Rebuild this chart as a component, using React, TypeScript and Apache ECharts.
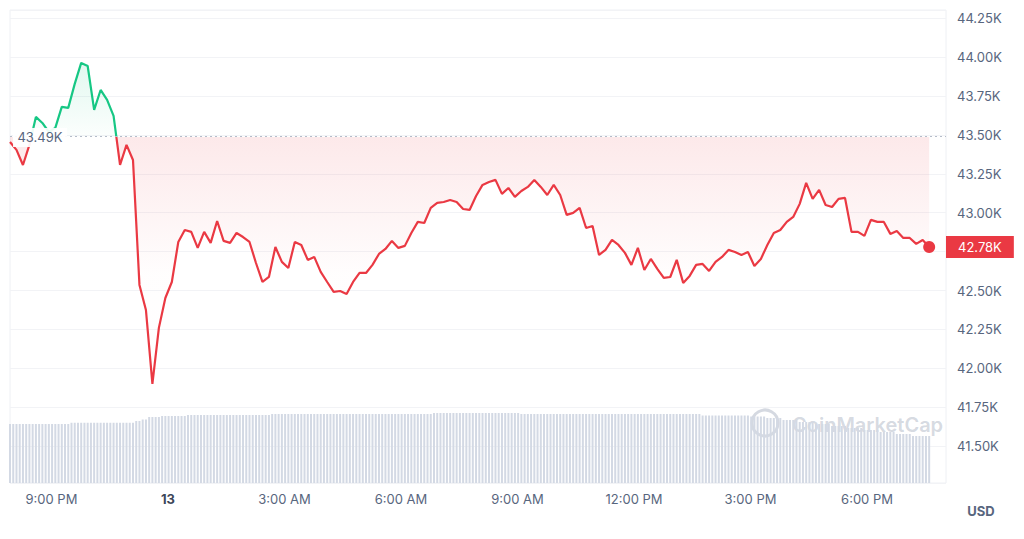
import { useEffect, useRef } from "react";
import * as echarts from "echarts";

// times are minutes relative to midnight of the 13th
const PRICE_START_MIN = -244; // 7:56 PM on the 12th
const PRICE_STEP_MIN = 10;
const VOLUME_STEP_MIN = 5;

// BTC price, USD, one point every 10 minutes
const PRICES = [
  43455, 43404, 43307, 43436, 43616, 43577, 43519, 43545, 43680, 43674,
  43828, 43963, 43943, 43661, 43789, 43725, 43622, 43307, 43436, 43339,
  42536, 42375, 41900, 42260, 42452, 42555, 42812, 42889, 42877, 42774,
  42877, 42806, 42947, 42819, 42806, 42870, 42844, 42812, 42677, 42555,
  42587, 42780, 42684, 42645, 42812, 42793, 42697, 42716, 42620, 42555,
  42491, 42497, 42478, 42555, 42613, 42613, 42665, 42735, 42767, 42819,
  42774, 42787, 42870, 42941, 42934, 43031, 43063, 43069, 43082, 43069,
  43024, 43018, 43108, 43179, 43198, 43211, 43121, 43159, 43102, 43140,
  43166, 43211, 43166, 43114, 43179, 43114, 42986, 42999, 43031, 42902,
  42915, 42729, 42761, 42825, 42793, 42742, 42665, 42774, 42632, 42703,
  42639, 42581, 42587, 42697, 42549, 42594, 42665, 42671, 42626, 42684,
  42716, 42761, 42748, 42729, 42748, 42658, 42703, 42793, 42870, 42889,
  42941, 42973, 43057, 43192, 43089, 43147, 43050, 43037, 43089, 43095,
  42877, 42877, 42851, 42954, 42941, 42941, 42864, 42883, 42838, 42838,
  42800, 42825, 42780,
];

// 24h volume, billions USD, one bar every 5 minutes
const VOLUMES = [
  23.6, 23.6, 23.6, 23.6, 23.6, 23.6, 23.6, 23.6, 23.6, 23.6,
  23.6, 23.6, 23.6, 23.6, 23.6, 23.6, 23.6, 23.6, 23.6, 24.1,
  24.1, 24.1, 24.1, 24.1, 24.1, 24.1, 24.1, 24.1, 24.1, 24.1,
  24.1, 24.1, 24.1, 24.1, 24.1, 24.1, 24.1, 24.1, 24.1, 24.8,
  24.8, 25.4, 25.4, 26.4, 26.4, 26.4, 26.4, 26.8, 26.8, 26.8,
  26.8, 26.8, 26.8, 26.8, 26.8, 27.2, 27.2, 27.2, 27.2, 27.2,
  27.2, 27.2, 27.2, 27.2, 27.2, 27.2, 27.2, 27.2, 27.2, 27.2,
  27.2, 27.2, 27.2, 27.2, 27.2, 27.2, 27.2, 27.2, 27.2, 27.2,
  27.2, 27.6, 27.6, 27.6, 27.6, 27.6, 27.6, 27.6, 27.6, 27.6,
  27.6, 27.6, 27.6, 27.6, 27.6, 27.6, 27.6, 27.6, 27.6, 27.6,
  27.6, 27.6, 27.6, 27.6, 27.6, 27.6, 27.6, 27.6, 27.6, 27.6,
  27.6, 27.6, 27.6, 27.6, 27.6, 27.6, 27.6, 27.6, 27.6, 27.6,
  27.6, 27.6, 27.6, 27.6, 27.6, 27.6, 27.6, 27.6, 27.6, 27.6,
  27.6, 28.0, 28.0, 28.0, 28.0, 28.0, 28.0, 28.0, 28.0, 28.0,
  28.0, 28.0, 28.0, 28.0, 28.0, 28.0, 28.0, 28.0, 28.0, 28.0,
  28.0, 28.0, 28.0, 28.0, 28.0, 28.0, 28.0, 28.0, 27.6, 27.6,
  27.6, 27.6, 27.6, 27.6, 27.6, 27.6, 27.6, 27.6, 27.6, 27.6,
  27.6, 27.6, 27.6, 27.6, 27.6, 27.6, 27.6, 27.6, 27.6, 27.6,
  27.6, 27.6, 27.6, 27.6, 27.6, 27.6, 27.6, 27.6, 27.6, 27.6,
  27.6, 27.6, 27.6, 27.6, 27.6, 27.6, 27.6, 27.6, 27.6, 27.6,
  27.6, 27.6, 27.6, 27.6, 27.6, 27.6, 27.6, 27.6, 27.6, 27.6,
  27.6, 27.6, 27.6, 27.6, 27.0, 27.0, 27.0, 27.0, 27.0, 27.0,
  27.0, 27.0, 27.0, 27.0, 27.0, 27.0, 27.0, 27.0, 27.0, 26.6,
  26.6, 26.6, 26.6, 26.6, 26.0, 26.0, 26.0, 26.0, 26.0, 25.2,
  25.2, 25.2, 25.2, 25.2, 24.4, 24.4, 24.4, 24.4, 24.4, 23.6,
  23.6, 23.6, 23.6, 23.6, 22.8, 22.8, 22.8, 22.8, 22.8, 22.0,
  22.0, 22.0, 22.0, 22.0, 21.2, 21.2, 21.2, 21.2, 21.2, 20.4,
  20.4, 20.4, 20.4, 20.4, 19.6, 19.6, 19.6, 19.6, 19.6, 18.8,
  18.8, 18.8, 18.8, 18.8, 18.8,
];

const OPEN_PRICE = 43490;
const LAST_PRICE = 42780;
// the red fill has faded out by about this price
const FADE_PRICE = 42600;
// the axis label hidden behind the last-price badge
const COVERED_TICK = 42750;

// x ticks every 3 hours, labelled from this list
const X_TICK_STEP = 180;
const X_TICKS = [-180, 0, 180, 360, 540, 720, 900, 1080];
const X_LABELS = ["9:00 PM", "13", "3:00 AM", "6:00 AM", "9:00 AM", "12:00 PM", "3:00 PM", "6:00 PM"];
const Y_TICK_STEP = 250;

const X_MIN = -244;
const X_MAX = 1202;
const Y_MIN = 41263;
const Y_MAX = 44303;
const VOL_MAX = 189.2;

const GREEN = "#16c784";
const RED = "#ea3943";
const MUTED = "#58667e";
const FONT = "Inter, sans-serif";

const fmtK = (v: number) => `${(v / 1000).toFixed(2)}K`;

export default function App() {
  const ref = useRef<HTMLDivElement>(null);

  useEffect(() => {
    if (!ref.current) return;
    const chart = echarts.init(ref.current, null, { renderer: "svg" });

    const priceData = PRICES.map((p, i) => [PRICE_START_MIN + i * PRICE_STEP_MIN, p]);
    const volData = VOLUMES.map((v, i) => [PRICE_START_MIN + i * VOLUME_STEP_MIN, v]);
    const last = priceData[priceData.length - 1]!;

    chart.setOption({
      animation: false,
      textStyle: { fontFamily: FONT },
      grid: {
        left: 10, right: 78, top: 10, bottom: 56,
        show: true, borderColor: "#eef0f4", borderWidth: 1,
      },
      xAxis: {
        type: "value", min: X_MIN, max: X_MAX,
        minInterval: X_TICK_STEP, maxInterval: X_TICK_STEP,
        axisLine: { show: false },
        axisTick: { show: false },
        splitLine: { show: false },
        axisLabel: {
          showMinLabel: false, showMaxLabel: false,
          margin: 9,
          fontSize: 13,
          color: MUTED,
          fontFamily: FONT,
          formatter: (v: number) => {
            const s = X_LABELS[X_TICKS.indexOf(v)] ?? "";
            return v === 0 ? `{day|${s}}` : s;
          },
          rich: { day: { fontWeight: 700, fontSize: 13, color: "#3d4658", fontFamily: FONT } },
        },
      },
      yAxis: [
        {
          type: "value", position: "right", min: Y_MIN, max: Y_MAX,
          minInterval: Y_TICK_STEP, maxInterval: Y_TICK_STEP,
          axisLine: { show: false },
          axisTick: { show: false },
          splitLine: { show: true, lineStyle: { color: "#f2f3f6", width: 1 } },
          axisLabel: {
            showMinLabel: false, showMaxLabel: false,
            formatter: (v: number) => (v === COVERED_TICK ? "" : fmtK(v)),
            color: MUTED, fontSize: 13, margin: 11, fontFamily: FONT,
          },
        },
        { type: "value", min: 0, max: VOL_MAX, show: false, splitLine: { show: false } },
      ],
      visualMap: {
        show: false, type: "piecewise", seriesIndex: 0, dimension: 1,
        pieces: [
          { gte: 0, lte: OPEN_PRICE, color: RED },
          { gt: OPEN_PRICE, lte: 1000000, color: GREEN },
        ],
      },
      series: [
        {
          id: "price",
          type: "line",
          data: priceData,
          showSymbol: false,
          symbol: "none",
          lineStyle: { width: 2.2 },
          areaStyle: { origin: OPEN_PRICE, color: "rgba(234,57,67,0.08)" },
          z: 3,
          markLine: {
            silent: true, symbol: "none",
            data: [
              {
                yAxis: OPEN_PRICE,
                lineStyle: { type: [2, 3], color: "#b4bcc9", width: 1 },
                label: { show: false },
              },
              {
                yAxis: LAST_PRICE,
                lineStyle: { color: "rgba(0,0,0,0)", width: 0 },
                label: {
                  show: true, position: "end", distance: 0,
                  formatter: fmtK(LAST_PRICE),
                  backgroundColor: RED, color: "#fff",
                  fontSize: 13, fontFamily: FONT, padding: [5, 12, 4, 12],
                },
              },
            ],
          },
          markPoint: {
            silent: true,
            data: [
              {
                coord: [PRICE_START_MIN, OPEN_PRICE],
                symbol: "rect", symbolSize: [54, 19], symbolOffset: [30, 1],
                itemStyle: { color: "rgba(255,255,255,0.92)" },
                label: {
                  show: true, position: "inside", formatter: fmtK(OPEN_PRICE),
                  color: MUTED, fontSize: 13, fontFamily: FONT,
                },
              },
              {
                coord: last,
                symbol: "circle", symbolSize: 12,
                itemStyle: { color: RED },
                label: { show: false },
              },
            ],
          },
        },
        {
          type: "bar",
          yAxisIndex: 1,
          data: volData,
          barWidth: 2,
          itemStyle: { color: "#d3d9e4" },
          silent: true,
          z: 1,
        },
      ],
      graphic: [
        {
          type: "circle", silent: true,
          shape: { cx: 765, cy: 423, r: 13 },
          style: { fill: "none", stroke: "rgba(150,160,180,0.4)", lineWidth: 3 },
        },
        {
          type: "text", silent: true, x: 792, y: 425,
          style: {
            text: "CoinMarketCap", fill: "rgba(150,160,180,0.4)",
            font: `600 20px ${FONT}`, textVerticalAlign: "middle",
          },
        },
        {
          type: "text", silent: true, x: 981, y: 511,
          style: {
            text: "USD", fill: MUTED, font: `bold 13px ${FONT}`,
            textAlign: "center", textVerticalAlign: "middle",
          },
        },
      ],
    });

    // area fill: green above the open price, red below, both fading downward
    const toY = (v: number) => chart.convertToPixel({ yAxisIndex: 0 }, v) as number;
    const yHi = toY(Math.max(...PRICES));
    const yLo = toY(Math.min(...PRICES));
    const span = yLo - yHi;
    const fBase = (toY(OPEN_PRICE) - yHi) / span;
    const fFade = (toY(FADE_PRICE) - yHi) / span;
    chart.setOption({
      series: [{
        id: "price",
        areaStyle: {
          origin: OPEN_PRICE,
          color: {
            type: "linear", global: true, x: 0, y: yHi, x2: 0, y2: yLo,
            colorStops: [
              { offset: 0, color: "rgba(22,199,132,0.18)" },
              { offset: fBase, color: "rgba(22,199,132,0.02)" },
              { offset: fBase, color: "rgba(234,57,67,0.16)" },
              { offset: fFade, color: "rgba(234,57,67,0.01)" },
              { offset: 1, color: "rgba(234,57,67,0)" },
            ],
          },
        },
      }],
    });

    return () => chart.dispose();
  }, []);

  return (
    <div
      ref={ref}
      style={{ position: "fixed", left: 0, top: 0, width: 1024, height: 539, background: "#fff" }}
    />
  );
}
